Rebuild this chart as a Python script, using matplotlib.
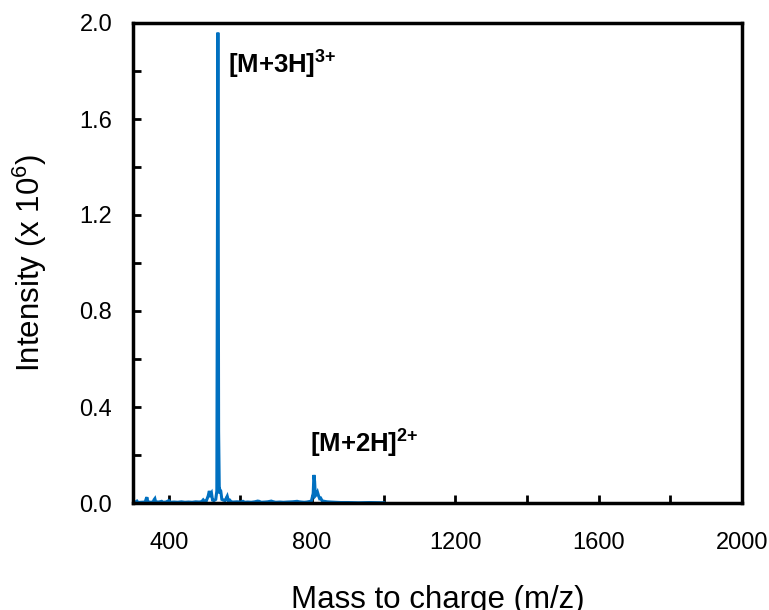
import matplotlib
matplotlib.use("Agg")
import matplotlib.pyplot as plt
from matplotlib.ticker import FixedLocator, MultipleLocator, FormatStrFormatter

plt.rcParams['font.family'] = ['Liberation Sans', 'DejaVu Sans']
plt.rcParams['mathtext.fontset'] = 'custom'
plt.rcParams['mathtext.rm'] = 'Liberation Sans'
plt.rcParams['mathtext.it'] = 'Liberation Sans:italic'
plt.rcParams['mathtext.bf'] = 'Liberation Sans:bold'

# m/z values and intensities (x 10^6)
mz = [300, 306, 311, 314, 322, 334, 337, 339, 341, 348, 356, 359, 361, 363,
      372, 380, 384, 392, 400, 404, 415, 425, 435, 445, 455, 465, 475, 485,
      492, 496, 499, 504, 510, 513, 516, 519, 522, 526, 531, 534, 537, 539,
      541, 543, 545, 548, 552, 557, 561, 563, 566, 570, 574, 580, 590, 600,
      607, 612, 620, 630, 640, 648, 652, 658, 668, 676, 686, 690, 698, 710,
      720, 730, 745, 752, 758, 764, 770, 778, 785, 792, 798, 803, 805, 807,
      809, 812, 815, 818, 821, 824, 828, 834, 842, 852, 865, 880, 900, 930,
      960, 1000]
intensity = [0.002, 0.003, 0.008, 0.002, 0.003, 0.004, 0.018, 0.024, 0.006,
             0.003, 0.004, 0.014, 0.018, 0.005, 0.004, 0.007, 0.003, 0.004,
             0.010, 0.003, 0.004, 0.003, 0.005, 0.003, 0.004, 0.003, 0.005,
             0.004, 0.006, 0.013, 0.008, 0.006, 0.030, 0.050, 0.035, 0.042,
             0.012, 0.010, 0.015, 0.050, 1.960, 0.300, 0.040, 0.055, 0.050,
             0.015, 0.012, 0.010, 0.022, 0.028, 0.010, 0.012, 0.005, 0.004,
             0.005, 0.004, 0.007, 0.003, 0.004, 0.003, 0.005, 0.008, 0.007,
             0.003, 0.004, 0.005, 0.008, 0.006, 0.003, 0.004, 0.003, 0.004,
             0.005, 0.006, 0.007, 0.005, 0.004, 0.003, 0.004, 0.006, 0.008,
             0.040, 0.117, 0.090, 0.030, 0.035, 0.045, 0.030, 0.018, 0.020,
             0.009, 0.007, 0.005, 0.004, 0.003, 0.002, 0.002, 0.001, 0.002,
             0.001]

x_ticks = [400, 800, 1200, 1600, 2000]
x_tick_labels = ['400', '800', '1200', '1600', '2000']
annotations = [(r'$\mathbf{[M{+}3H]^{3{+}}}$', 566, 1.79),
               (r'$\mathbf{[M{+}2H]^{2{+}}}$', 793, 0.21)]

fig = plt.figure(figsize=(7.69, 6.10), dpi=100)
ax = fig.add_axes([133/769, 1 - 503/610, (742-133)/769, (503-23)/610])

ax.plot(mz, intensity, color='#0070C0', linewidth=2.2, solid_joinstyle='miter')

ax.set_xlim(300, 2000)
ax.set_ylim(0, 2.0)
ax.xaxis.set_major_locator(FixedLocator(x_ticks))
ax.set_xticklabels(x_tick_labels)
ax.xaxis.set_minor_locator(MultipleLocator(200))
ax.yaxis.set_major_locator(MultipleLocator(0.4))
ax.yaxis.set_minor_locator(MultipleLocator(0.2))
ax.yaxis.set_major_formatter(FormatStrFormatter('%.1f'))

ax.tick_params(axis='both', which='both', direction='in', width=2.0,
               length=6, labelsize=17, colors='black')
ax.tick_params(axis='x', which='both', pad=21)
ax.tick_params(axis='y', which='both', pad=15)
for s in ax.spines.values():
    s.set_linewidth(2.5)

ax.set_xlabel('Mass to charge (m/z)', fontsize=22.5, labelpad=22)
ax.set_ylabel('Intensity (x 10$^{6}$)', fontsize=22.5, labelpad=22)

for txt, xx, yy in annotations:
    ax.text(xx, yy, txt, fontsize=18.5, ha='left', va='baseline')

fig.savefig('out.png', dpi=100)
